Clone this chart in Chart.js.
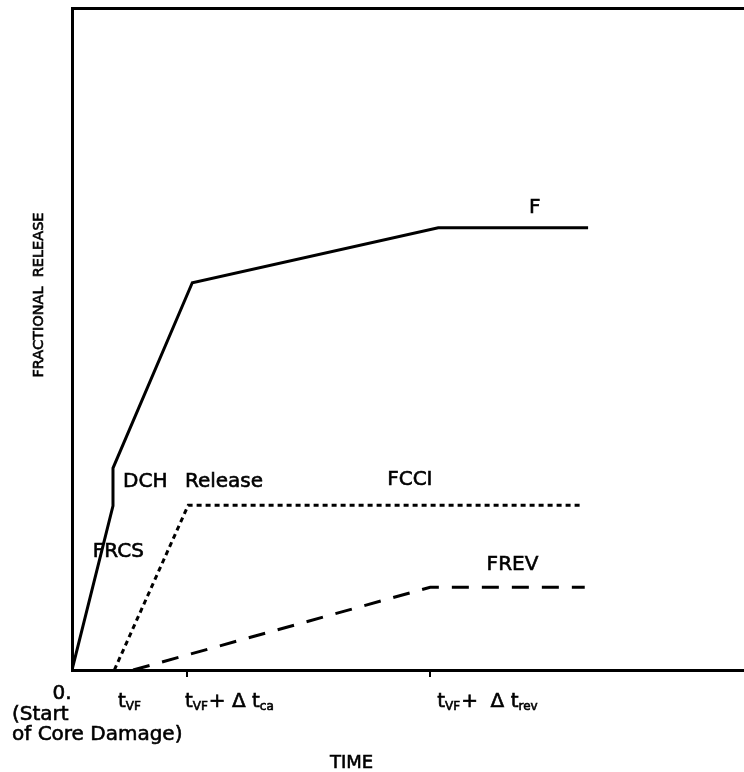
<!DOCTYPE html>
<html>
<head>
<meta charset="utf-8">
<script src="https://cdn.jsdelivr.net/npm/chart.js@4"></script>
<style>
  body { margin: 0; background: #fff; }
  canvas { display: block; }
</style>
</head>
<body>
<canvas id="grafik" width="744" height="772"></canvas>
<script>
// vrijeme (relativne jedinice 0-100) i frakcija oslobadjanja (0-100)
const fTime = [0, 6.1, 6.1, 17.9, 54.5, 76.8];
const fRelease = [0, 24.8, 30.5, 58.5, 66.8, 66.8];
const fcciTime = [6.3, 17.3, 76.0];
const fcciRelease = [0, 24.9, 24.9];
const frevTime = [9.1, 53.3, 76.3];
const frevRelease = [0, 12.5, 12.5];

// oznake na x osi
const tickTimes = [17.1, 53.3];

// tekstovi uz krivulje: [tekst, vrijeme, frakcija]
const curveLabels = [
    ["F", 68.0, 69.1],
    ["DCH", 7.6, 27.6],
    ["Release", 16.8, 27.6],
    ["FCCI", 46.9, 27.9],
    ["FRCS", 3.1, 17.0],
    ["FREV", 61.7, 15.1]
];

const toPoints = (xs, ys) => xs.map((x, i) => ({ x: x, y: ys[i] }));

// tekst malo podebljan (kao na ploteru)
function pisi(ctx, tekst, x, y) {
    ctx.fillText(tekst, x, y);
    ctx.strokeText(tekst, x, y);
}

// crtanje teksta s indeksima (npr. t_VF)
function crtajIndeks(ctx, x, y, dijelovi) {
    let px = x;
    dijelovi.forEach(([tekst, sub]) => {
        ctx.font = sub ? "12px 'DejaVu Sans'" : "20px 'DejaVu Sans'";
        pisi(ctx, tekst, px, sub ? y + 3 : y);
        px += ctx.measureText(tekst).width + (sub ? 1 : 0);
    });
}

const tekstPlugin = {
    id: "tekstovi",
    afterDraw(chart) {
        const ctx = chart.ctx;
        const xs = chart.scales.x;
        const ys = chart.scales.y;
        ctx.save();
        ctx.fillStyle = "#000";
        ctx.strokeStyle = "#000";
        ctx.lineWidth = 0.6;
        ctx.textBaseline = "alphabetic";

        // oznake krivulja
        ctx.font = "20px 'DejaVu Sans'";
        ctx.textAlign = "left";
        curveLabels.forEach(([tekst, t, f]) => {
            pisi(ctx, tekst, xs.getPixelForValue(t), ys.getPixelForValue(f));
        });

        // oznake ispod x osi
        const yLab = chart.chartArea.bottom + 37;
        ctx.textAlign = "center";
        ctx.font = "20px 'DejaVu Sans'";
        pisi(ctx, "0.", xs.getPixelForValue(0) - 10, chart.chartArea.bottom + 29);
        ctx.textAlign = "left";
        pisi(ctx, "(Start", 12, chart.chartArea.bottom + 50);
        pisi(ctx, "of Core Damage)", 12, chart.chartArea.bottom + 70);

        crtajIndeks(ctx, xs.getPixelForValue(6.1) + 5, yLab, [["t"], ["VF", 1]]);
        crtajIndeks(ctx, xs.getPixelForValue(tickTimes[0]) - 2, yLab,
            [["t"], ["VF", 1], ["+ "], ["\u0394 t"], ["ca", 1]]);
        crtajIndeks(ctx, xs.getPixelForValue(tickTimes[1]) + 7, yLab,
            [["t"], ["VF", 1], ["+  "], ["\u0394 t"], ["rev", 1]]);

        // naslovi osi
        ctx.font = "18px 'DejaVu Sans'";
        pisi(ctx, "TIME", 330, 768);

        ctx.translate(43, 295);
        ctx.rotate(-Math.PI / 2);
        ctx.textAlign = "center";
        ctx.font = "14.5px 'DejaVu Sans'";
        pisi(ctx, "FRACTIONAL  RELEASE", 0, 0);
        ctx.restore();
    }
};

new Chart(document.getElementById("grafik").getContext("2d"), {
    type: "line",
    data: {
        datasets: [
            {
                label: "F",
                data: toPoints(fTime, fRelease),
                borderColor: "#000",
                borderWidth: 3,
            },
            {
                label: "FCCI",
                data: toPoints(fcciTime, fcciRelease),
                borderColor: "#000",
                borderWidth: 3,
                borderDash: [5, 4],
            },
            {
                label: "FREV",
                data: toPoints(frevTime, frevRelease),
                borderColor: "#000",
                borderWidth: 3,
                borderDash: [17, 13],
            }
        ]
    },
    options: {
        responsive: false,
        animation: false,
        layout: { padding: 0 },
        elements: { point: { radius: 0 }, line: { tension: 0 } },
        plugins: {
            legend: { display: false },
            tooltip: { enabled: false }
        },
        scales: {
            x: {
                type: "linear",
                position: "bottom",
                min: 0,
                max: 100,
                afterFit: s => { s.height = 102; },
                afterBuildTicks: s => { s.ticks = tickTimes.map(v => ({ value: v })); },
                ticks: { callback: () => "", autoSkip: false },
                grid: { drawOnChartArea: false, drawTicks: true, tickLength: 7, color: "#000", lineWidth: 2 },
                border: { display: true, color: "#000", width: 3 }
            },
            xTop: {
                type: "linear",
                position: "top",
                min: 0,
                max: 100,
                afterFit: s => { s.height = 8; },
                ticks: { display: false },
                grid: { drawOnChartArea: false, drawTicks: false },
                border: { display: true, color: "#000", width: 3 }
            },
            y: {
                type: "linear",
                min: 0,
                max: 100,
                afterFit: s => { s.width = 72; },
                ticks: { display: false },
                grid: { drawOnChartArea: false, drawTicks: false },
                border: { display: true, color: "#000", width: 3 }
            }
        }
    },
    plugins: [tekstPlugin]
});
</script>
</body>
</html>
